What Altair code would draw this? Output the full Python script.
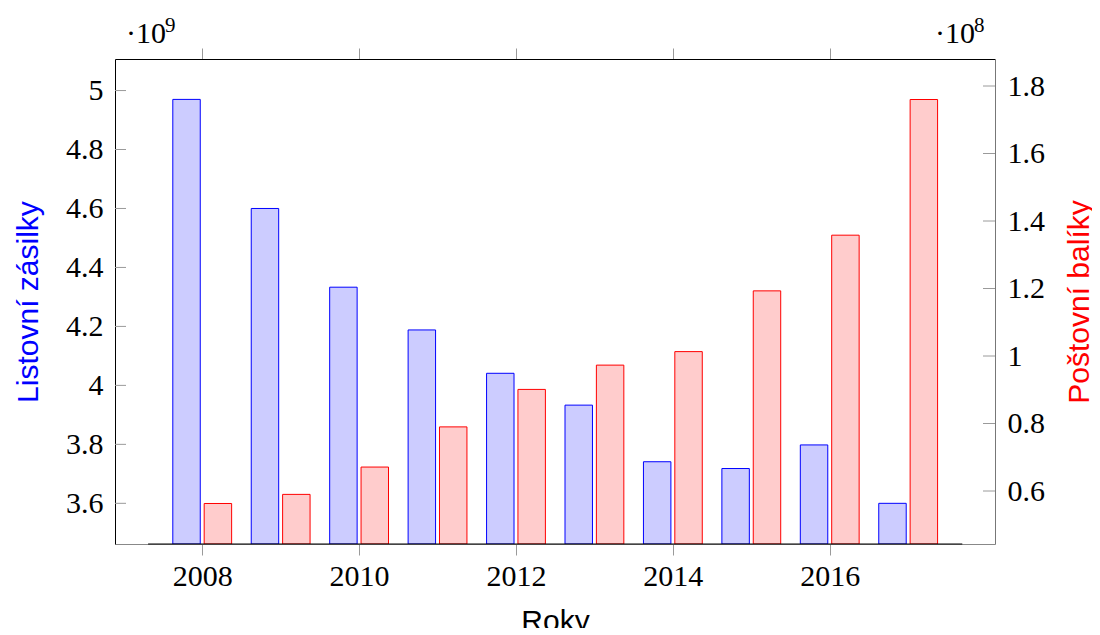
import altair as alt
import pandas as pd

# ---- data ----
years = [2008, 2009, 2010, 2011, 2012, 2013, 2014, 2015, 2016, 2017]
letters_e9 = [4.970, 4.600, 4.333, 4.188, 4.041, 3.933, 3.741, 3.718, 3.798, 3.600]   # ×10^9
parcels_e8 = [0.563, 0.590, 0.671, 0.790, 0.901, 0.973, 1.013, 1.193, 1.358, 1.760]   # ×10^8
x_ticks = [2008, 2010, 2012, 2014, 2016]
left_ticks = [3.6, 3.8, 4.0, 4.2, 4.4, 4.6, 4.8, 5.0]
right_ticks = [0.6, 0.8, 1.0, 1.2, 1.4, 1.6, 1.8]

df = pd.DataFrame({"year": years, "letters": letters_e9, "parcels": parcels_e8})
df_lt = pd.DataFrame({"v": left_ticks})
df_rt = pd.DataFrame({"v": right_ticks})
df_xt = pd.DataFrame({"t": x_ticks})
one = pd.DataFrame({"k": [0]})

W, H = 880, 485
SERIF = "'Liberation Serif', 'DejaVu Serif', serif"
SANS = "Liberation Sans"
GRAY = "#9a9a9a"

xscale = alt.Scale(domain=[2006.888, 2018.107], nice=False, zero=False)
lscale = alt.Scale(domain=[3.462, 5.107], nice=False, zero=False)
rscale = alt.Scale(domain=[0.443, 1.88], nice=False, zero=False)

bottom_axis = alt.Axis(orient="bottom", values=x_ticks, format="d", title="Roky",
                       grid=False, domainColor="#888888", tickColor=GRAY, tickSize=11,
                       labelFont=SERIF, labelFontSize=30, labelColor="black", labelPadding=6,
                       titleFont=SANS, titleFontSize=30, titleFontWeight="normal",
                       titleColor="black", titlePadding=15)
top_axis = alt.Axis(orient="top", values=x_ticks, labels=False, title=None, grid=False,
                    domainColor="black", tickColor=GRAY, tickSize=11)
left_axis = alt.Axis(orient="left", values=left_ticks, format="~g", title="Listovní zásilky",
                     grid=False, ticks=False, domainColor="black",
                     labelFont=SERIF, labelFontSize=30, labelColor="black", labelPadding=12,
                     titleFont=SANS, titleFontSize=30, titleFontWeight="normal",
                     titleColor="#0000ff", titlePadding=22)
right_axis = alt.Axis(orient="right", values=right_ticks, format="~g", title="Poštovní balíky",
                      grid=False, ticks=False, domainColor="#777777",
                      labelFont=SERIF, labelFontSize=30, labelColor="black", labelPadding=12,
                      titleFont=SANS, titleFontSize=30, titleFontWeight="normal",
                      titleColor="#ff0000", titlePadding=50, titleAngle=-90)

blue = alt.Chart(df).transform_calculate(
    x0="datum.year - 0.375", x1="datum.year - 0.025"
).mark_bar(fill="#ccccff", stroke="#0000ff", strokeWidth=1, clip=True).encode(
    x=alt.X("x0:Q", scale=xscale, axis=bottom_axis),
    x2="x1:Q",
    y=alt.Y("letters:Q", scale=lscale, axis=left_axis),
    y2=alt.value(H),
)

red = alt.Chart(df).transform_calculate(
    x0="datum.year + 0.025", x1="datum.year + 0.375"
).mark_bar(fill="#ffcccc", stroke="#ff0000", strokeWidth=1, clip=True).encode(
    x=alt.X("x0:Q", scale=xscale, axis=None),
    x2="x1:Q",
    y=alt.Y("parcels:Q", scale=rscale, axis=right_axis),
    y2=alt.value(H),
)

left_tk = alt.Chart(df_lt).mark_rule(color=GRAY, strokeWidth=1).encode(
    x=alt.value(0), x2=alt.value(11),
    y=alt.Y("v:Q", scale=lscale, axis=None),
)
right_tk = alt.Chart(df_rt).mark_rule(color=GRAY, strokeWidth=1).encode(
    x=alt.value(W - 12), x2=alt.value(W),
    y=alt.Y("v:Q", scale=rscale, axis=None),
)

top = alt.Chart(df_xt).mark_point(opacity=0).encode(
    x=alt.X("t:Q", scale=xscale, axis=top_axis),
    y=alt.value(0),
)

baseline = alt.Chart(one).mark_rule(color="black", strokeWidth=1.2).encode(
    x=alt.X(datum=2007.31, scale=xscale, axis=None),
    x2=alt.X2(datum=2017.69),
    y=alt.value(H),
)

def txt(s, x, y, size):
    return alt.Chart(one).mark_text(text=s, font=SERIF, fontSize=size, align="left",
                                    baseline="alphabetic", color="black").encode(
        x=alt.value(x), y=alt.value(y))

exp_l = txt("·10", 11, -16, 30) + txt("9", 50, -27, 21)
exp_r = txt("·10", 820, -16, 30) + txt("8", 859, -27, 21)

chart = alt.layer(
    blue, red, left_tk, right_tk, top, baseline, exp_l, exp_r
).resolve_scale(y="independent").resolve_axis(x="independent", y="independent").properties(
    width=W, height=H,
    padding={"left": 107, "top": 51, "right": 97, "bottom": 84},
    autosize=alt.AutoSizeParams(type="none"),
    background="white",
).configure_view(stroke=None).configure_axis(labelFont=SERIF, labelFontSize=30, titleFont=SANS)

chart.save("out.html", embed_options={"renderer": "svg", "actions": False})
